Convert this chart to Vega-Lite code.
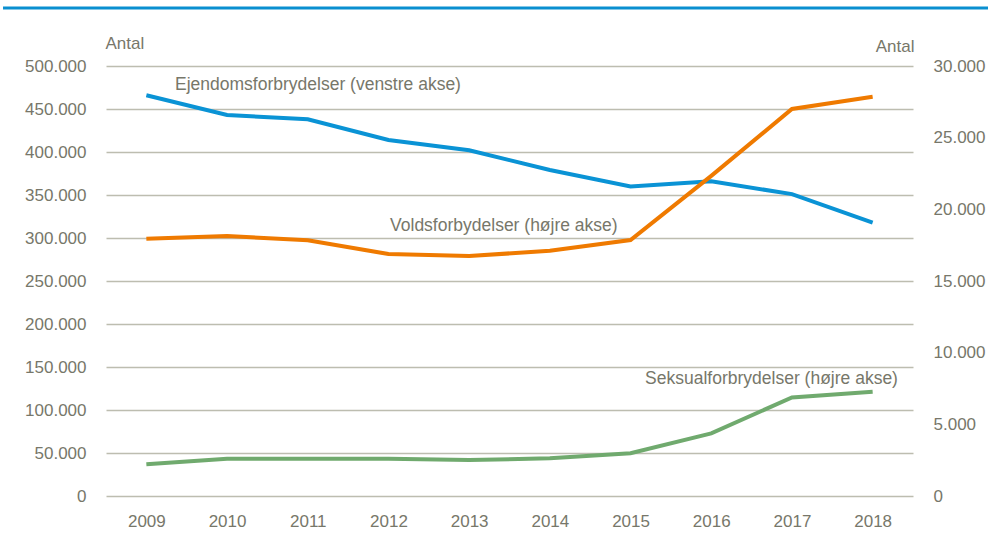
{
  "$schema": "https://vega.github.io/schema/vega-lite/v6.json",
  "width": 807,
  "height": 430,
  "autosize": {"type": "none"},
  "padding": {"left": 106, "top": 66, "right": 75, "bottom": 39},
  "background": "white",
  "config": {
    "view": {"stroke": null},
    "font": "Liberation Sans, Arial, sans-serif",
    "locale": {"number": {"decimal": ",", "thousands": ".", "grouping": [3], "currency": ["", " kr"]}},
    "axis": {
      "labelFont": "Liberation Sans, Arial, sans-serif",
      "titleFont": "Liberation Sans, Arial, sans-serif",
      "labelFontSize": 17,
      "titleFontSize": 17,
      "labelColor": "#77776a",
      "titleColor": "#77776a",
      "titleFontWeight": "normal",
      "domain": false,
      "ticks": false
    }
  },
  "datasets": {
    "series": [
      {"year": 2009, "series": "Ejendomsforbrydelser", "value": 466000},
      {"year": 2010, "series": "Ejendomsforbrydelser", "value": 443000},
      {"year": 2011, "series": "Ejendomsforbrydelser", "value": 438000},
      {"year": 2012, "series": "Ejendomsforbrydelser", "value": 414000},
      {"year": 2013, "series": "Ejendomsforbrydelser", "value": 402000},
      {"year": 2014, "series": "Ejendomsforbrydelser", "value": 379000},
      {"year": 2015, "series": "Ejendomsforbrydelser", "value": 360000},
      {"year": 2016, "series": "Ejendomsforbrydelser", "value": 366000},
      {"year": 2017, "series": "Ejendomsforbrydelser", "value": 351000},
      {"year": 2018, "series": "Ejendomsforbrydelser", "value": 318000},
      {"year": 2009, "series": "Voldsforbrydelser", "value": 17950},
      {"year": 2010, "series": "Voldsforbrydelser", "value": 18140},
      {"year": 2011, "series": "Voldsforbrydelser", "value": 17840},
      {"year": 2012, "series": "Voldsforbrydelser", "value": 16880},
      {"year": 2013, "series": "Voldsforbrydelser", "value": 16740},
      {"year": 2014, "series": "Voldsforbrydelser", "value": 17110},
      {"year": 2015, "series": "Voldsforbrydelser", "value": 17860},
      {"year": 2016, "series": "Voldsforbrydelser", "value": 22330},
      {"year": 2017, "series": "Voldsforbrydelser", "value": 27000},
      {"year": 2018, "series": "Voldsforbrydelser", "value": 27860},
      {"year": 2009, "series": "Seksualforbrydelser", "value": 2210},
      {"year": 2010, "series": "Seksualforbrydelser", "value": 2600},
      {"year": 2011, "series": "Seksualforbrydelser", "value": 2600},
      {"year": 2012, "series": "Seksualforbrydelser", "value": 2600},
      {"year": 2013, "series": "Seksualforbrydelser", "value": 2510},
      {"year": 2014, "series": "Seksualforbrydelser", "value": 2630},
      {"year": 2015, "series": "Seksualforbrydelser", "value": 2980},
      {"year": 2016, "series": "Seksualforbrydelser", "value": 4370},
      {"year": 2017, "series": "Seksualforbrydelser", "value": 6880},
      {"year": 2018, "series": "Seksualforbrydelser", "value": 7280}
    ],
    "labels": [
      {"label": "Ejendomsforbrydelser (venstre akse)", "year": 2009.355, "value": 477900, "side": "left"},
      {"label": "Voldsforbydelser (højre akse)", "year": 2012.02, "value": 18840, "side": "right"},
      {"label": "Seksualforbrydelser (højre akse)", "year": 2015.18, "value": 8160, "side": "right"}
    ]
  },
  "resolve": {"scale": {"y": "independent"}},
  "layer": [
    {
      "layer": [
        {
          "data": {"values": [{"k": 1}]},
          "mark": {"type": "rule", "color": "#0a8fd0", "strokeWidth": 3, "clip": false},
          "encoding": {
            "x": {"datum": 2007.224, "type": "quantitative", "scale": {"domain": [2008.5, 2018.5]}},
            "x2": {"datum": 2019.43},
            "y": {"datum": 567400, "type": "quantitative"}
          }
        },
        {
          "data": {"name": "series"},
          "transform": [{"filter": "datum.series === 'Ejendomsforbrydelser'"}],
          "mark": {"type": "line", "strokeWidth": 4, "color": "#0a93d5"},
          "encoding": {
            "x": {
              "field": "year", "type": "quantitative",
              "scale": {"domain": [2008.5, 2018.5], "nice": false, "zero": false},
              "axis": {"values": [2009, 2010, 2011, 2012, 2013, 2014, 2015, 2016, 2017, 2018], "format": "d", "title": null, "grid": false, "labelPadding": 17}
            },
            "y": {
              "field": "value", "type": "quantitative",
              "scale": {"domain": [0, 500000], "nice": false},
              "axis": {
                "values": [0, 50000, 100000, 150000, 200000, 250000, 300000, 350000, 400000, 450000, 500000],
                "format": ",d",
                "grid": true, "gridColor": "#bdbdb0", "gridWidth": 1.5,
                "labelPadding": 20,
                "title": "Antal", "titleAngle": 0, "titleAlign": "left", "titleBaseline": "middle",
                "titleX": -1, "titleY": -23
              }
            }
          }
        },
        {
          "data": {"name": "labels"},
          "transform": [{"filter": "datum.side === 'left'"}],
          "mark": {"type": "text", "align": "left", "baseline": "middle", "fontSize": 17.5, "color": "#77776a"},
          "encoding": {
            "x": {"field": "year", "type": "quantitative"},
            "y": {"field": "value", "type": "quantitative"},
            "text": {"field": "label"}
          }
        }
      ]
    },
    {
      "layer": [
        {
          "data": {"name": "series"},
          "transform": [{"filter": "datum.series !== 'Ejendomsforbrydelser'"}],
          "mark": {"type": "line", "strokeWidth": 4},
          "encoding": {
            "x": {"field": "year", "type": "quantitative"},
            "y": {
              "field": "value", "type": "quantitative",
              "scale": {"domain": [0, 30000], "nice": false},
              "axis": {
                "orient": "right",
                "values": [0, 5000, 10000, 15000, 20000, 25000, 30000],
                "format": ",d",
                "grid": false,
                "labelPadding": 20,
                "title": "Antal", "titleAngle": 0, "titleAlign": "right", "titleBaseline": "middle",
                "titleX": 1, "titleY": -20
              }
            },
            "color": {
              "field": "series", "type": "nominal",
              "scale": {"domain": ["Voldsforbrydelser", "Seksualforbrydelser"], "range": ["#ef7a00", "#70aa6e"]},
              "legend": null
            }
          }
        },
        {
          "data": {"name": "labels"},
          "transform": [{"filter": "datum.side === 'right'"}],
          "mark": {"type": "text", "align": "left", "baseline": "middle", "fontSize": 17.5, "color": "#77776a"},
          "encoding": {
            "x": {"field": "year", "type": "quantitative"},
            "y": {"field": "value", "type": "quantitative"},
            "text": {"field": "label"}
          }
        }
      ]
    }
  ]
}
